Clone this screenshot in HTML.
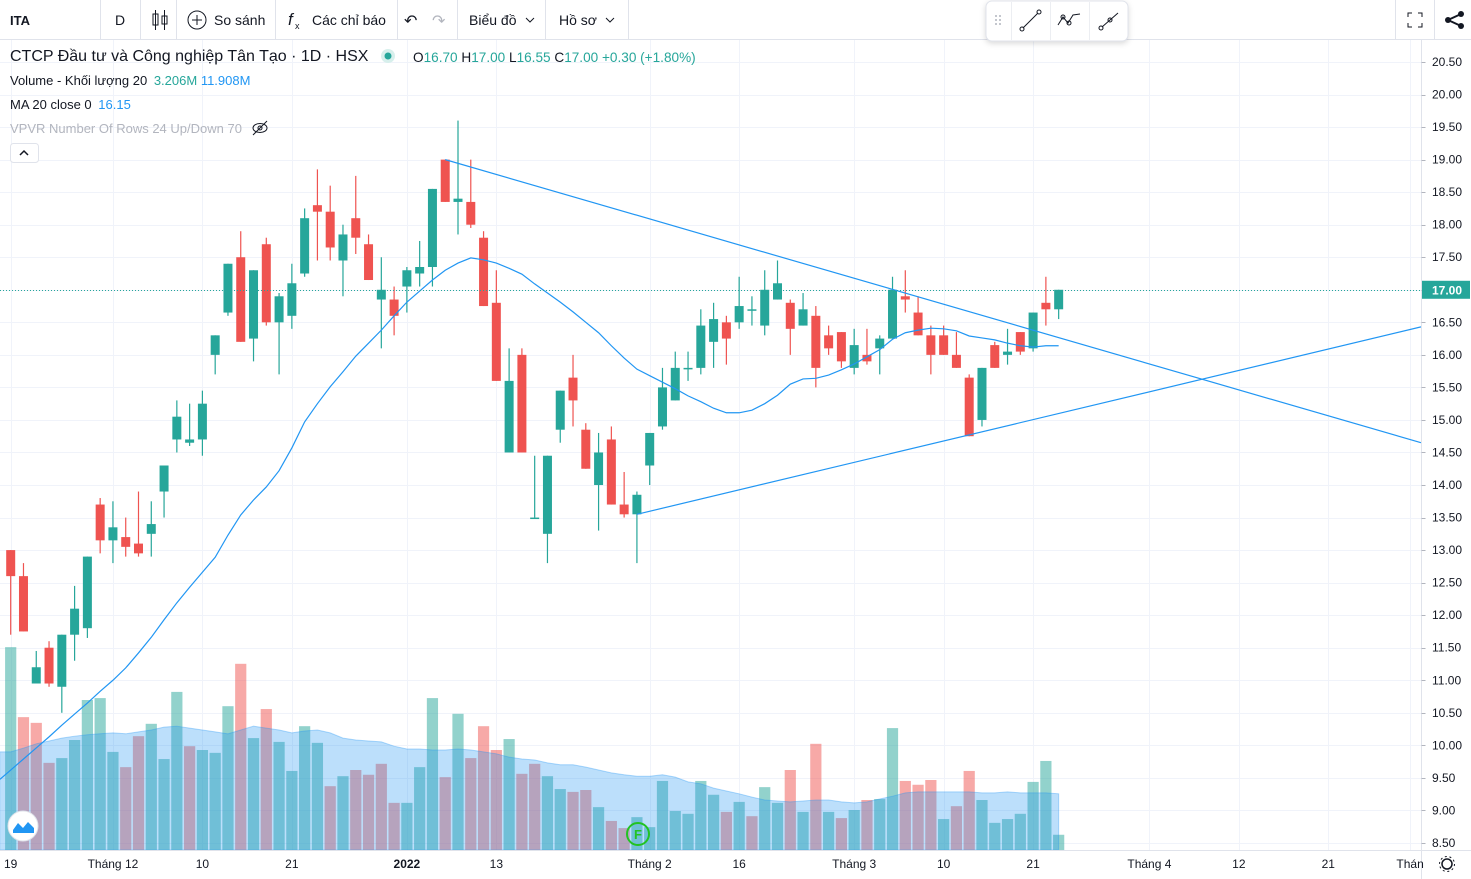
<!DOCTYPE html>
<html><head><meta charset="utf-8"><style>
body{margin:0;width:1471px;height:879px;overflow:hidden;background:#fff;font-family:"Liberation Sans","Noto Sans CJK SC",sans-serif;}
svg{display:block}
</style></head><body>
<svg id="chart" width="1471" height="879" xmlns="http://www.w3.org/2000/svg" font-family="Liberation Sans, sans-serif">
<g id="grid"></g>
<g id="vol"></g>
<g id="candles"></g>
<g id="overlay"></g>
<g id="axes"></g>
<!-- toolbar -->
<g>
<rect x="0" y="0" width="1471" height="39.5" fill="#fff"/>
<line x1="0" y1="39.5" x2="1471" y2="39.5" stroke="#e0e3eb"/>
<text x="10" y="25" font-size="13" font-weight="bold" fill="#131722">ITA</text>
<line x1="100.5" y1="0" x2="100.5" y2="39" stroke="#e0e3eb"/>
<text x="115" y="25" font-size="14" fill="#131722">D</text>
<line x1="140.5" y1="0" x2="140.5" y2="39" stroke="#e0e3eb"/>
<g stroke="#131722" fill="none"><line x1="155.5" y1="10" x2="155.5" y2="30"/><rect x="153" y="14" width="5" height="11"/><line x1="164.5" y1="10" x2="164.5" y2="30"/><rect x="162" y="16" width="5" height="8"/></g>
<line x1="176.5" y1="0" x2="176.5" y2="39" stroke="#e0e3eb"/>
<g><circle cx="197" cy="20" r="9" fill="none" stroke="#131722"/><line x1="192" y1="20" x2="202" y2="20" stroke="#131722"/><line x1="197" y1="15" x2="197" y2="25" stroke="#131722"/><text x="214" y="25" font-size="14" fill="#131722">So sánh</text></g>
<line x1="275.5" y1="0" x2="275.5" y2="39" stroke="#e0e3eb"/>
<g><text x="288" y="25" font-size="17" font-style="italic" fill="#131722">f</text><text x="295" y="29" font-size="9" fill="#131722">x</text><text x="312" y="25" font-size="14" fill="#131722">Các chỉ báo</text></g>
<line x1="397.5" y1="0" x2="397.5" y2="39" stroke="#e0e3eb"/>
<text x="404" y="26" font-size="16" fill="#131722">↶</text>
<text x="432" y="26" font-size="16" fill="#b2b5be">↷</text>
<line x1="457.5" y1="0" x2="457.5" y2="39" stroke="#e0e3eb"/>
<g><text x="469" y="25" font-size="14" fill="#131722">Biểu đồ</text><path d="M526 18l4 4 4-4" stroke="#131722" fill="none"/></g>
<line x1="545.5" y1="0" x2="545.5" y2="39" stroke="#e0e3eb"/>
<g><text x="559" y="25" font-size="14" fill="#131722">Hồ sơ</text><path d="M606 18l4 4 4-4" stroke="#131722" fill="none"/></g>
<line x1="628.5" y1="0" x2="628.5" y2="39" stroke="#e0e3eb"/>
<line x1="1395.5" y1="0" x2="1395.5" y2="39" stroke="#e0e3eb"/>
<line x1="1434.5" y1="0" x2="1434.5" y2="39" stroke="#e0e3eb"/>
<g stroke="#131722" fill="none"><path d="M1408 17v-4h4M1418 13h4v4M1408 23v4h4M1422 23v4h-4"/></g>
<g fill="#131722"><circle cx="1461" cy="14" r="3"/><circle cx="1461" cy="26" r="3"/><circle cx="1448" cy="20" r="3"/><path d="M1448 20L1461 14M1448 20L1461 26" stroke="#131722" stroke-width="2"/></g>
</g>
<g>
<rect x="986" y="1" width="142" height="40" rx="6" fill="#fff" stroke="#e0e3eb" style="filter:drop-shadow(0 2px 3px rgba(0,0,0,.15))"/>
<g fill="#b2b5be"><circle cx="996" cy="16" r="1"/><circle cx="1000" cy="16" r="1"/><circle cx="996" cy="20" r="1"/><circle cx="1000" cy="20" r="1"/><circle cx="996" cy="24" r="1"/><circle cx="1000" cy="24" r="1"/></g>
<line x1="1011.5" y1="2" x2="1011.5" y2="40" stroke="#eceef2"/>
<g stroke="#131722" fill="none"><circle cx="1022" cy="29" r="2"/><circle cx="1039" cy="12" r="2"/><line x1="1023" y1="28" x2="1038" y2="13"/></g>
<line x1="1050.5" y1="2" x2="1050.5" y2="40" stroke="#eceef2"/>
<g stroke="#131722" fill="none"><path d="M1058 25l5-8 5 6 5-8 7-1"/><circle cx="1063" cy="17" r="2"/><circle cx="1069" cy="23" r="2"/></g>
<line x1="1089.5" y1="2" x2="1089.5" y2="40" stroke="#eceef2"/>
<g stroke="#131722" fill="none"><circle cx="1101" cy="28" r="2"/><circle cx="1110" cy="20" r="2"/><line x1="1102" y1="27" x2="1118" y2="13"/></g>
</g>
<!-- legend -->
<g>
<text x="10" y="61" font-size="16" fill="#131722">CTCP Đầu tư và Công nghiệp Tân Tạo · 1D · HSX</text>
<circle cx="388" cy="56" r="7" fill="#d7efec"/><circle cx="388" cy="56" r="3.5" fill="#26a69a"/>
<text x="413" y="62" font-size="13.6" fill="#26a69a"><tspan fill="#131722">O</tspan>16.70 <tspan fill="#131722">H</tspan>17.00 <tspan fill="#131722">L</tspan>16.55 <tspan fill="#131722">C</tspan>17.00 +0.30 (+1.80%)</text>
<text x="10" y="85" font-size="13" fill="#131722">Volume - Khối lượng 20 <tspan fill="#26a69a" dx="3">3.206M</tspan> <tspan fill="#2196f3">11.908M</tspan></text>
<text x="10" y="109" font-size="13" fill="#131722">MA 20 close 0 <tspan fill="#2196f3" dx="3">16.15</tspan></text>
<text x="10" y="133" font-size="13" fill="#b2b5be">VPVR Number Of Rows 24 Up/Down 70</text>
<g stroke="#131722" fill="none"><ellipse cx="260" cy="128" rx="7" ry="4.5"/><circle cx="260" cy="128" r="2"/><line x1="253" y1="135" x2="267" y2="121"/></g>
<g><rect x="10.5" y="143.5" width="28" height="19" rx="3" fill="#fff" stroke="#e0e3eb"/><path d="M20 155l4-4 4 4" stroke="#131722" fill="none" stroke-width="1.5"/></g>
</g>
<g><circle cx="23" cy="826" r="15" fill="#fff" stroke="#e0e3eb"/><path d="M13 830l5-7 5 5 5-6 6 6v5h-21z" fill="#2196f3"/></g>
<g><circle cx="1447" cy="864" r="5" fill="none" stroke="#131722" stroke-width="1.5"/><circle cx="1447" cy="864" r="7.5" fill="none" stroke="#131722" stroke-dasharray="2 2.7"/></g>
</svg>
<script>
const opens=[13.00,12.60,10.95,11.50,10.90,11.70,11.80,13.70,13.15,13.20,13.10,13.25,13.90,14.70,14.65,14.70,16.00,16.65,17.50,16.25,17.70,16.50,16.60,17.25,18.30,18.20,17.45,18.10,17.70,16.85,16.85,17.05,17.25,17.35,19.00,18.35,18.35,17.80,16.80,14.50,16.00,13.50,13.25,14.85,15.65,14.85,14.00,14.70,13.70,13.55,14.30,14.90,15.30,15.80,15.80,16.20,16.50,16.50,16.70,16.45,16.85,16.80,16.45,16.60,16.30,16.35,15.80,16.00,16.10,16.25,16.90,16.65,16.30,16.30,16.00,15.65,15.00,16.15,16.00,16.35,16.10,16.80,16.70];
const highs=[13.00,12.80,11.45,11.60,11.70,12.45,12.90,13.80,13.75,13.50,13.90,13.75,14.30,15.30,15.25,15.45,16.30,17.40,17.90,17.30,17.80,16.95,17.40,18.25,18.85,18.60,18.00,18.75,17.85,17.50,17.05,17.35,17.75,18.55,19.00,19.60,19.00,17.90,17.30,16.10,16.10,14.45,14.45,15.45,16.00,14.95,14.80,14.90,14.20,13.90,14.80,15.80,16.05,16.05,16.70,16.80,16.60,17.20,16.90,17.30,17.45,16.85,16.95,16.75,16.45,16.35,16.40,16.40,16.30,17.20,17.30,16.90,16.45,16.45,16.35,15.70,15.80,16.20,16.40,16.35,16.65,17.20,17.00];
const lows=[11.70,11.75,10.95,10.90,10.50,11.30,11.65,12.95,12.80,12.90,12.90,12.90,13.50,14.50,14.60,14.45,15.70,16.60,16.20,15.90,16.45,15.70,16.40,17.20,17.45,17.45,16.90,17.55,17.15,16.10,16.30,16.65,17.05,17.05,18.35,17.85,17.95,16.75,15.60,14.50,14.50,13.50,12.80,14.65,14.90,14.25,13.30,13.70,13.50,12.80,14.00,14.85,15.30,15.60,15.70,15.80,15.85,16.40,16.45,16.30,16.85,16.00,16.45,15.50,16.00,15.80,15.70,15.85,15.70,16.25,16.65,16.30,15.70,16.00,15.80,14.75,14.90,15.80,15.85,16.00,16.05,16.45,16.55];
const closes=[12.60,11.75,11.20,10.95,11.70,12.10,12.90,13.15,13.35,13.05,12.95,13.40,14.30,15.05,14.70,15.25,16.30,17.40,16.20,17.30,16.50,16.90,17.10,18.10,18.20,17.65,17.85,17.80,17.15,17.00,16.60,17.30,17.35,18.55,18.35,18.40,18.00,16.75,15.60,15.60,14.50,13.50,14.45,15.45,15.30,14.25,14.50,13.70,13.55,13.85,14.80,15.50,15.80,15.80,16.45,16.55,16.25,16.75,16.70,17.00,17.10,16.40,16.70,15.80,16.10,15.90,16.15,15.90,16.25,17.00,16.85,16.30,16.00,16.00,15.80,14.75,15.80,15.80,16.05,16.05,16.65,16.70,17.00];
const volumes=[42.6,27.9,26.7,18.3,19.3,23.1,31.5,31.9,20.6,17.4,23.9,26.5,19.1,33.2,21.8,21.0,20.4,30.2,39.1,23.5,29.6,22.7,16.6,26.0,22.5,13.4,15.5,16.8,15.8,18.1,9.9,9.9,17.4,31.9,15.3,28.6,19.3,26.0,21.0,23.3,16.0,18.1,15.5,12.8,12.2,12.6,9.0,6.1,4.6,6.9,4.8,14.5,8.2,7.6,14.5,11.6,8.0,10.1,7.1,13.2,9.9,16.8,8.0,22.3,8.0,6.7,8.4,10.5,10.7,25.6,14.5,13.7,14.7,6.5,9.2,16.6,10.5,5.7,6.5,7.6,14.3,18.7,3.2];
const volumeMA=[20.6,21.4,22.3,22.9,23.5,23.9,24.2,24.4,24.6,24.4,24.8,25.2,25.8,26.0,25.6,25.2,24.8,24.4,25.2,26.0,25.6,25.2,24.6,25.0,25.2,24.6,23.5,23.1,22.9,22.7,21.8,21.2,21.2,21.0,21.0,21.2,21.0,20.6,20.2,19.5,19.1,18.9,18.3,17.9,17.9,17.4,16.8,16.2,15.8,15.5,15.5,15.8,15.3,14.3,13.9,13.0,12.4,11.8,11.1,10.5,10.3,10.1,10.3,10.5,10.5,10.1,9.9,10.1,10.7,11.3,12.0,12.2,12.2,12.2,12.2,12.2,12.0,12.0,12.2,12.0,12.0,12.0,11.8];
const priceMA=[9.62,9.79,9.96,10.13,10.31,10.48,10.65,10.83,11.00,11.19,11.42,11.66,11.93,12.19,12.43,12.66,12.89,13.23,13.54,13.77,13.97,14.22,14.57,14.97,15.25,15.51,15.74,15.98,16.18,16.38,16.60,16.81,16.98,17.15,17.30,17.41,17.49,17.46,17.41,17.33,17.24,17.09,16.95,16.81,16.66,16.50,16.34,16.14,15.95,15.78,15.68,15.58,15.48,15.37,15.28,15.18,15.11,15.11,15.15,15.25,15.38,15.55,15.63,15.64,15.69,15.77,15.86,15.97,16.08,16.24,16.34,16.38,16.41,16.40,16.37,16.29,16.26,16.23,16.18,16.14,16.12,16.14,16.14];
const trendLineA=[[34,19.00],[110.35,14.65]];
const trendLineB=[[49,13.55],[110.35,16.43]];
const xTickIdx=[0,8,15,22,31,38,50,57,66,73,80,89.1,96.1,103.1,109.5];
const xTickLabels=["19","Tháng 12","10","21","2022","13","Tháng 2","16","Tháng 3","10","21","Tháng 4","12","21","Thán"];
const yTicks=[8.5,9,9.5,10,10.5,11,11.5,12,12.5,13,13.5,14,14.5,15,15.5,16,16.5,17,17.5,18,18.5,19,19.5,20,20.5];
const lastPrice=17.00;

const NS="http://www.w3.org/2000/svg";
const X0=10.7,STEP=12.78,PLOTR=1421.5,BASE=850;
function xOf(i){return X0+STEP*i;}
function yOf(p){return 62+(20.5-p)*65.08;}
function yVol(v){return BASE-v/0.21;}
function mk(parent,tag,attrs){const e=document.createElementNS(NS,tag);for(const k in attrs)e.setAttribute(k,attrs[k]);parent.appendChild(e);return e;}
const grid=document.getElementById('grid'),vol=document.getElementById('vol'),cg=document.getElementById('candles'),ov=document.getElementById('overlay'),ax=document.getElementById('axes');
yTicks.forEach(t=>{const y=Math.round(yOf(t))+0.5;const l=mk(grid,'line',{x1:0,x2:PLOTR,y1:y,y2:y,stroke:'#f0f3fa'});

});
xTickIdx.forEach(i=>{const x=Math.round(xOf(i))+0.5;const l=mk(grid,'line',{x1:x,x2:x,y1:40,y2:BASE,stroke:'#f0f3fa'});

});
volumes.forEach((v,i)=>{const up=i===0||closes[i]>=closes[i-1];const y=yVol(v);
const r=mk(vol,'rect',{x:xOf(i)-5.6,y:y,width:11.2,height:BASE-y,fill:up?'rgba(38,166,154,0.5)':'rgba(239,83,80,0.5)'});

});
let d='M'+(xOf(0)-11)+','+BASE+' L'+(xOf(0)-11)+','+yVol(volumeMA[0]);
volumeMA.forEach((v,i)=>{d+=' L'+xOf(i)+','+yVol(v);});
d+=' L'+xOf(volumeMA.length-1)+','+BASE+' Z';
const area=mk(vol,'path',{d:d,fill:'rgba(33,150,243,0.3)',stroke:'rgba(33,150,243,0.35)'});


opens.forEach((o,i)=>{const c=closes[i],up=c>=o,col=up?'#26a69a':'#ef5350',x=xOf(i);
const w=mk(cg,'line',{x1:x,x2:x,y1:yOf(highs[i]),y2:yOf(lows[i]),stroke:col,'stroke-width':1.2});


const top=yOf(Math.max(o,c)),bot=yOf(Math.min(o,c));
const b=mk(cg,'rect',{x:x-4.5,y:top,width:9,height:Math.max(1.5,bot-top),fill:col});

});
// MA line, extended to left edge by extrapolating first segment
const i0=-X0/STEP;
const p0=priceMA[0]+(priceMA[1]-priceMA[0])*i0;
const maPts=[xOf(i0)+','+yOf(p0)].concat(priceMA.map((p,i)=>xOf(i)+','+yOf(p)));
const ma=mk(ov,'polyline',{points:maPts.join(' '),fill:'none',stroke:'#2196f3','stroke-width':1.2});


[trendLineA,trendLineB].forEach((t,k)=>{const l=mk(ov,'line',{x1:xOf(t[0][0]),y1:yOf(t[0][1]),x2:xOf(t[1][0]),y2:yOf(t[1][1]),stroke:'#2196f3','stroke-width':1.2});

});
const ly=Math.round(yOf(lastPrice))+0.5;
const pl=mk(ov,'line',{x1:0,x2:PLOTR,y1:ly,y2:ly,stroke:'#26a69a','stroke-dasharray':'1 2'});


const fm=mk(ov,'circle',{cx:638,cy:834,r:11,fill:'none',stroke:'#22c322','stroke-width':2});


const ft=mk(ov,'text',{x:638,y:839,'font-size':13,'text-anchor':'middle',fill:'#22c322','font-weight':'bold'});ft.textContent='F';


mk(ax,'rect',{x:PLOTR,y:40,width:50,height:839,fill:'#fff'});
mk(ax,'rect',{x:0,y:BASE,width:1471,height:29,fill:'#fff'});
mk(ax,'line',{x1:PLOTR,x2:PLOTR,y1:40,y2:879,stroke:'#e0e3eb'});
mk(ax,'line',{x1:0,x2:1471,y1:BASE+0.5,y2:BASE+0.5,stroke:'#e0e3eb'});
yTicks.forEach(t=>{const y=yOf(t);
mk(ax,'line',{x1:PLOTR,x2:PLOTR+4,y1:Math.round(y)+0.5,y2:Math.round(y)+0.5,stroke:'#b2b5be'});
const tx=mk(ax,'text',{x:1432,y:y+4,'font-size':12,fill:'#131722'});tx.textContent=t.toFixed(2);

});
const pb=mk(ax,'rect',{x:PLOTR+0.5,y:yOf(lastPrice)-9,width:48,height:18,fill:'#26a69a'});


const pt=mk(ax,'text',{x:1432,y:yOf(lastPrice)+4.5,'font-size':12,fill:'#fff','font-weight':'bold'});pt.textContent=lastPrice.toFixed(2);


xTickIdx.forEach((i,k)=>{const lbl=xTickLabels[k];const t=mk(ax,'text',{x:xOf(i),y:868,'font-size':12,fill:'#131722','text-anchor':k===0?'start':'middle','font-weight':lbl==='2022'?'bold':'normal'});
if(k===0)t.setAttribute('x',4);
t.textContent=lbl;

});
</script>
</body></html>
